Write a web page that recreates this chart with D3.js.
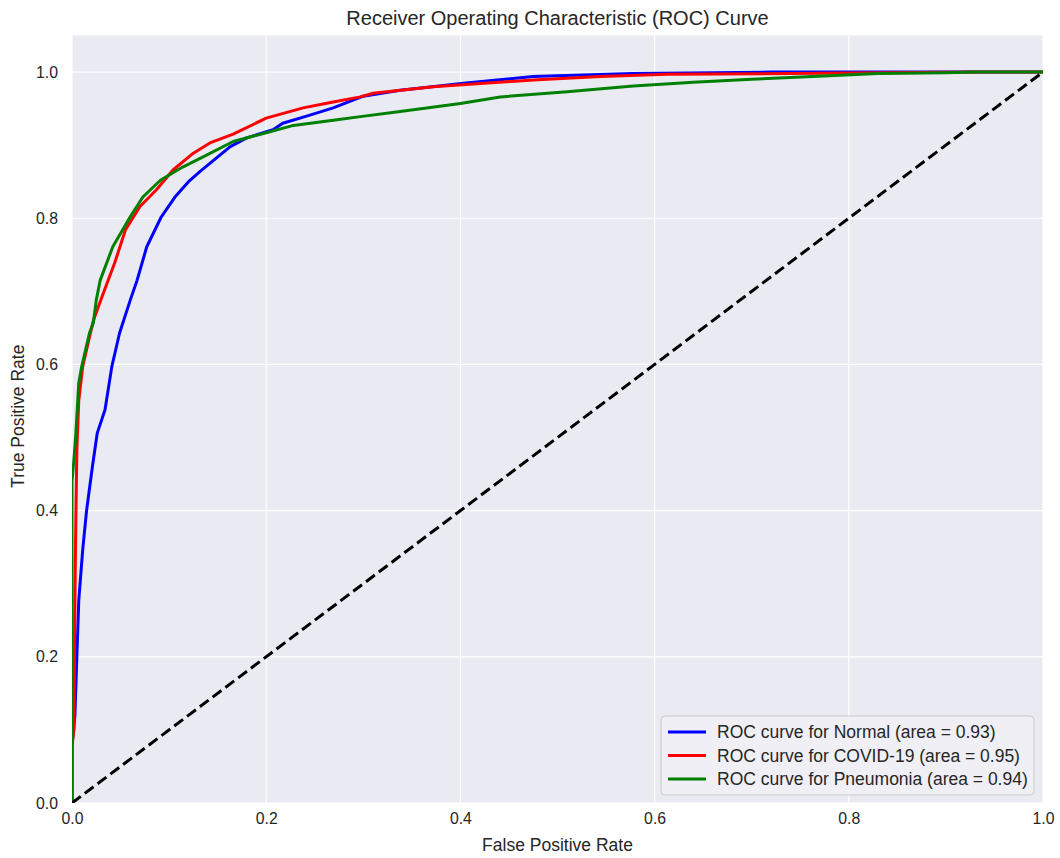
<!DOCTYPE html>
<html>
<head>
<meta charset="utf-8">
<script src="https://cdn.jsdelivr.net/npm/d3@7"></script>
<style>
  body { margin: 0; background: #ffffff; }
  text { font-family: Arial, "Liberation Sans", sans-serif; fill: #262626; }
</style>
</head>
<body>
<svg id="chart" width="1060" height="858"></svg>
<script>
// ---- data ----
const title = "Receiver Operating Characteristic (ROC) Curve";
const xLabel = "False Positive Rate";
const yLabel = "True Positive Rate";
const xTicks = [0, 0.2, 0.4, 0.6, 0.8, 1.0];
const yTicks = [0, 0.2, 0.4, 0.6, 0.8, 1.0];

const seriesNames = ["ROC curve for Normal (area = 0.93)", "ROC curve for COVID-19 (area = 0.95)", "ROC curve for Pneumonia (area = 0.94)"];
const seriesColors = ["#0000ff", "#ff0000", "#008000"];

const normalFpr = [0, 0, 0.003, 0.005, 0.007, 0.011, 0.015, 0.021, 0.026, 0.034, 0.041, 0.049, 0.06, 0.067, 0.077, 0.092, 0.106, 0.12, 0.132, 0.142, 0.163, 0.18, 0.207, 0.217, 0.245, 0.269, 0.3, 0.338, 0.406, 0.475, 0.578, 0.66, 0.72, 1];
const normalTpr = [0, 0.077, 0.12, 0.2, 0.278, 0.346, 0.4, 0.46, 0.506, 0.538, 0.597, 0.643, 0.688, 0.715, 0.761, 0.802, 0.829, 0.85, 0.864, 0.875, 0.898, 0.91, 0.921, 0.93, 0.941, 0.951, 0.967, 0.975, 0.985, 0.994, 0.998, 0.999, 1.0, 1];

const covidFpr = [0, 0, 0.002, 0.003, 0.004, 0.005, 0.007, 0.011, 0.019, 0.022, 0.031, 0.044, 0.055, 0.07, 0.087, 0.104, 0.125, 0.142, 0.166, 0.2, 0.238, 0.269, 0.297, 0.31, 0.372, 0.475, 0.544, 0.613, 0.74, 0.93, 1];
const covidTpr = [0, 0.08, 0.1, 0.278, 0.391, 0.483, 0.551, 0.597, 0.643, 0.66, 0.693, 0.739, 0.784, 0.816, 0.839, 0.866, 0.889, 0.903, 0.915, 0.937, 0.951, 0.959, 0.966, 0.971, 0.98, 0.989, 0.994, 0.997, 0.998, 1.0, 1];

const pneuFpr = [0, 0, 0.002, 0.004, 0.007, 0.01, 0.018, 0.022, 0.025, 0.029, 0.042, 0.06, 0.073, 0.091, 0.114, 0.135, 0.166, 0.2, 0.228, 0.269, 0.297, 0.338, 0.4, 0.441, 0.51, 0.578, 0.64, 0.7, 0.78, 0.83, 0.9, 0.93, 1];
const pneuTpr = [0, 0.44, 0.47, 0.506, 0.575, 0.597, 0.643, 0.657, 0.688, 0.715, 0.761, 0.802, 0.829, 0.852, 0.87, 0.884, 0.905, 0.917, 0.927, 0.934, 0.939, 0.946, 0.957, 0.966, 0.973, 0.981, 0.986, 0.99, 0.995, 0.998, 0.999, 1.0, 1];

const diagX = [0, 1];
const diagY = [0, 1];

// ---- layout ----
const svg = d3.select("#chart");
const margin = { left: 72, right: 17, top: 35.5, bottom: 55 };
const W = 1060, H = 858;
const pw = W - margin.left - margin.right;
const ph = H - margin.top - margin.bottom;

const x = d3.scaleLinear().domain([0, 1]).range([margin.left, margin.left + pw]);
const y = d3.scaleLinear().domain([0, 1.05]).range([margin.top + ph, margin.top]);

svg.append("defs").append("clipPath").attr("id", "clip")
  .append("rect").attr("x", margin.left).attr("y", margin.top).attr("width", pw).attr("height", ph);

svg.append("rect").attr("x", margin.left).attr("y", margin.top).attr("width", pw).attr("height", ph)
  .attr("fill", "#eaeaf2");

// grid
const grid = svg.append("g");
grid.selectAll(".gx").data(xTicks).enter().append("line")
  .attr("x1", d => x(d)).attr("x2", d => x(d))
  .attr("y1", margin.top).attr("y2", margin.top + ph)
  .attr("stroke", "#ffffff").attr("stroke-width", 1.2);
grid.selectAll(".gy").data(yTicks).enter().append("line")
  .attr("x1", margin.left).attr("x2", margin.left + pw)
  .attr("y1", d => y(d)).attr("y2", d => y(d))
  .attr("stroke", "#ffffff").attr("stroke-width", 1.2);

// axes
const xAxis = svg.append("g").attr("transform", `translate(0,${margin.top + ph})`)
  .call(d3.axisBottom(x).tickValues(xTicks).tickFormat(d3.format(".1f")).tickSize(0).tickPadding(10));
const yAxis = svg.append("g").attr("transform", `translate(${margin.left},0)`)
  .call(d3.axisLeft(y).tickValues(yTicks).tickFormat(d3.format(".1f")).tickSize(0).tickPadding(14));
[xAxis, yAxis].forEach(a => {
  a.select(".domain").remove();
  a.selectAll("text").attr("font-size", 15.8).attr("fill", "#262626")
    .attr("font-family", "Arial, 'Liberation Sans', sans-serif");
});

// lines
const plot = svg.append("g").attr("clip-path", "url(#clip)");
const line = d3.line().x(d => x(d[0])).y(d => y(d[1]));
const series = [
  d3.zip(normalFpr, normalTpr),
  d3.zip(covidFpr, covidTpr),
  d3.zip(pneuFpr, pneuTpr)
];
series.forEach((s, i) => {
  plot.append("path").datum(s).attr("d", line)
    .attr("fill", "none").attr("stroke", seriesColors[i])
    .attr("stroke-width", 3).attr("stroke-linejoin", "round");
});
plot.append("path").datum(d3.zip(diagX, diagY)).attr("d", line)
  .attr("fill", "none").attr("stroke", "#000000").attr("stroke-width", 3)
  .attr("stroke-dasharray", "11,5");

// title & labels
svg.append("text").attr("x", margin.left + pw / 2).attr("y", 25)
  .attr("text-anchor", "middle").attr("font-size", 20).text(title);
svg.append("text").attr("x", margin.left + pw / 2).attr("y", 851)
  .attr("text-anchor", "middle").attr("font-size", 17.5).text(xLabel);
svg.append("text").attr("transform", `translate(24,${margin.top + ph / 2 - 3}) rotate(-90)`)
  .attr("text-anchor", "middle").attr("font-size", 17.5).text(yLabel);

// legend
const lg = svg.append("g").attr("transform", "translate(661,716)");
lg.append("rect").attr("x", 0).attr("y", 0).attr("width", 373).attr("height", 79)
  .attr("rx", 4).attr("fill", "#f0f0f5").attr("fill-opacity", 0.9)
  .attr("stroke", "#cccccc").attr("stroke-width", 1);
seriesNames.forEach((n, i) => {
  const yy = 16 + i * 23.5;
  lg.append("line").attr("x1", 7).attr("x2", 45).attr("y1", yy).attr("y2", yy)
    .attr("stroke", seriesColors[i]).attr("stroke-width", 3);
  lg.append("text").attr("x", 56).attr("y", yy + 6).attr("font-size", 17.5).text(n);
});
</script>
</body>
</html>
